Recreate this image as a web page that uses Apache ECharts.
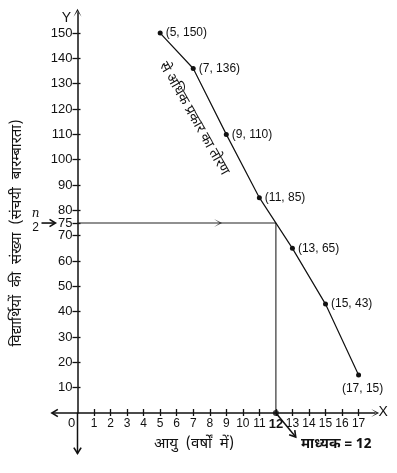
<!DOCTYPE html>
<html>
<head>
<meta charset="utf-8">
<script src="https://cdn.jsdelivr.net/npm/echarts@6/dist/echarts.min.js"></script>
<style>
  html, body { margin: 0; padding: 0; background: #fff; }
  #chart { width: 397px; height: 473px; }
</style>
</head>
<body>
<div id="chart"></div>
<script>
// data
const ages = [5, 7, 9, 11, 13, 15, 17]
const cumFreq = [150, 136, 110, 85, 65, 43, 15]
const xTicks = [1, 2, 3, 4, 5, 6, 7, 8, 9, 10, 11, 12, 13, 14, 15, 16, 17]
const yTicks = [10, 20, 30, 40, 50, 60, 70, 75, 80, 90, 100, 110, 120, 130, 140, 150]
const halfN = 75
const median = 12

const FONT = "Liberation Sans, Arial, sans-serif"
const HINDI = "Noto Sans Devanagari, Noto Sans, sans-serif"
const INK = "#111"
const chevron = "path://M0,10 L5,0 L10,10 L5,3 Z"

const myChart = echarts.init(document.getElementById("chart"))

const xBase = { type: "value", min: 0, max: 18, splitLine: { show: false } }
const yBase = { type: "value", min: 0, max: 158, splitLine: { show: false } }
const tickStyle = { color: INK, width: 1.3 }

myChart.setOption({
  animation: false,
  grid: { left: 77.5, right: 21.9, top: 12.8, bottom: 60 },
  xAxis: [
    {
      ...xBase,
      axisLine: {
        onZero: false,
        symbol: ["none", chevron],
        symbolSize: [9, 8],
        lineStyle: { color: INK, width: 1.5 },
      },
      axisTick: { customValues: xTicks, length: 3, lineStyle: tickStyle },
      axisLabel: {
        customValues: xTicks,
        color: INK,
        fontFamily: FONT,
        fontSize: 12,
        margin: 5,
        formatter: (v) => (v === median ? "{b|" + v + "}" : String(v)),
        rich: { b: { fontWeight: "bold", fontSize: 13, fontFamily: FONT, color: INK } },
      },
    },
    {
      // second axis only to make the ticks cross the line
      ...xBase,
      position: "bottom",
      axisLine: { onZero: false, show: false },
      axisTick: { customValues: xTicks, inside: true, length: 4, lineStyle: tickStyle },
      axisLabel: { show: false },
    },
  ],
  yAxis: [
    {
      ...yBase,
      axisLine: {
        onZero: false,
        symbol: ["none", chevron],
        symbolSize: [9, 8],
        lineStyle: { color: INK, width: 1.5 },
      },
      axisTick: { customValues: yTicks, length: 5, lineStyle: tickStyle },
      axisLabel: {
        customValues: yTicks,
        color: INK,
        fontFamily: FONT,
        fontSize: 13,
        margin: 5,
      },
    },
    {
      ...yBase,
      position: "left",
      axisLine: { onZero: false, show: false },
      axisTick: { customValues: yTicks, inside: true, length: 3, lineStyle: tickStyle },
      axisLabel: { show: false },
    },
  ],
  series: [
    {
      name: "ogive",
      type: "line",
      symbol: "circle",
      symbolSize: 5,
      itemStyle: { color: INK },
      lineStyle: { color: INK, width: 1.2 },
      label: {
        show: true,
        position: "right",
        distance: 3,
        color: INK,
        fontFamily: FONT,
        fontSize: 12,
        formatter: (p) => "(" + p.value[0] + ", " + p.value[1] + ")",
      },
      data: ages.map((a, i) => {
        const pt = { value: [a, cumFreq[i]] }
        if (i === ages.length - 1) pt.label = { position: "bottom", distance: 5, offset: [4, 0] }
        return pt
      }),
      z: 5,
    },
    {
      name: "median guide",
      type: "line",
      data: [[0, halfN], [median, halfN], [median, 0]],
      symbol: "none",
      lineStyle: { color: "#222", width: 1.1 },
      z: 3,
    },
    {
      name: "guide arrow",
      type: "scatter",
      data: [[8.5, halfN]],
      symbol: chevron,
      symbolSize: [8, 8],
      symbolRotate: -90,
      itemStyle: { color: "#222" },
      z: 4,
    },
    {
      name: "median point",
      type: "scatter",
      data: [[median, 0]],
      symbol: "circle",
      symbolSize: 6,
      itemStyle: { color: INK },
      z: 6,
    },
  ],
})

// extensions of the axes below / left of the origin and the text notes
const px = (x, y) => myChart.convertToPixel({ gridIndex: 0 }, [x, y])
const origin = px(0, 0)
const yTop = px(0, 158)
const xEnd = px(18, 0)
const halfPt = px(0, halfN)
const medPt = px(median, 0)
const pointer = px(13.2, -9.5)
const xLeft = px(-1.55, 0)
const yLow = px(0, -16)

const c1 = px(7, 136)
const c2 = px(9, 110)
const ang = Math.atan2(c2[1] - c1[1], c2[0] - c1[0]) - 0.05
const base = px(8.2, 120.5)
const tText = [base[0] - 23 * Math.sin(ang), base[1] + 23 * Math.cos(ang)]

const txt = (x, y, text, extra) => ({
  type: "text",
  x: x,
  y: y,
  style: Object.assign({ text: text, fill: INK, font: "14px " + FONT, align: "center", verticalAlign: "middle" }, extra || {}),
})
const seg = (a, b, w) => ({
  type: "line",
  shape: { x1: a[0], y1: a[1], x2: b[0], y2: b[1] },
  style: { stroke: INK, lineWidth: w || 1.5 },
})
const head = (tip, dir, w) => {
  // open arrow head, dir in radians
  const l = 7, s = 0.55
  return {
    type: "polyline",
    shape: {
      points: [
        [tip[0] - l * Math.cos(dir - s), tip[1] - l * Math.sin(dir - s)],
        tip,
        [tip[0] - l * Math.cos(dir + s), tip[1] - l * Math.sin(dir + s)],
      ],
    },
    style: { stroke: INK, lineWidth: w || 1.6, fill: null },
  }
}
const pDir = Math.atan2(pointer[1] - medPt[1], pointer[0] - medPt[0])

myChart.setOption({
  graphic: [
    seg(xLeft, origin),
    head(xLeft, Math.PI),
    seg(yLow, origin),
    head(yLow, Math.PI / 2),
    seg(medPt, pointer),
    head(pointer, pDir),
    txt(yTop[0] - 11, yTop[1] + 5, "Y", { font: "14px " + FONT }),
    txt(xEnd[0] + 8, xEnd[1] - 1, "X", { font: "14px " + FONT }),
    txt(origin[0] - 6, origin[1] + 10, "0", { font: "13px " + FONT }),
    txt(halfPt[0] - 42, halfPt[1] - 9, "n", { font: "italic 12px DejaVu Serif, serif" }),
    txt(halfPt[0] - 42, halfPt[1] + 5, "2", { font: "12px " + FONT }),
    seg([halfPt[0] - 36, halfPt[1]], [halfPt[0] - 23, halfPt[1]], 1.6),
    head([halfPt[0] - 22, halfPt[1]], 0),
    {
      type: "text",
      x: 18,
      y: 233,
      rotation: Math.PI / 2,
      style: { text: "विद्यार्थियों  की  संख्या  (संचयी  बारम्बारता)", fill: INK, font: "15px " + HINDI, align: "center", verticalAlign: "middle" },
    },
    txt(194, 445, "आयु  (वर्षों  में)", { font: "15px " + HINDI }),
    txt(medPt[0] + 25, 445, "माध्यक = 12", { font: "bold 14px " + HINDI, align: "left" }),
    {
      type: "text",
      x: tText[0],
      y: tText[1],
      rotation: -ang,
      style: { text: "से अधिक प्रकार का तोरण", fill: INK, font: "14px " + HINDI, align: "center", verticalAlign: "middle" },
    },
  ],
})

window.addEventListener("resize", () => {
  myChart.resize()
})
</script>
</body>
</html>
